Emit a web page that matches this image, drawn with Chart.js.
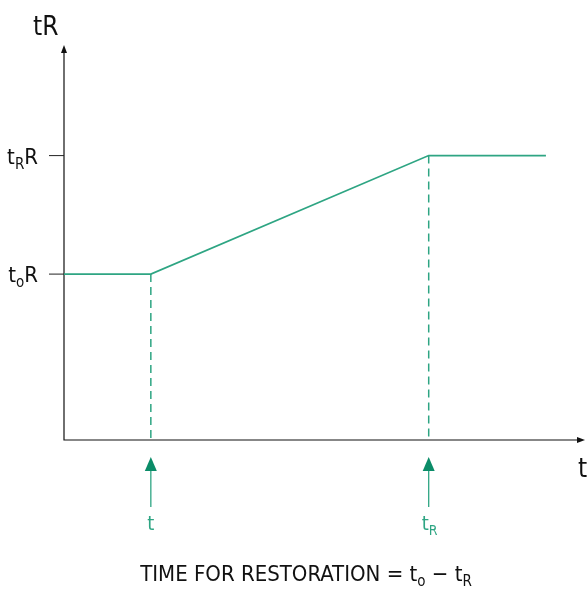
<!DOCTYPE html>
<html>
<head>
<meta charset="utf-8">
<script src="https://cdn.jsdelivr.net/npm/chart.js@4/dist/chart.umd.min.js"></script>
<style>
  html, body { margin: 0; padding: 0; background: #fff; }
  #wrap { width: 587px; height: 590px; }
</style>
</head>
<body>
<div id="wrap"><canvas id="restoreChart"></canvas></div>
<script>
// data
const timeValues = [0, 1, 4.2, 5.55];
const levelValues = [4.2, 4.2, 7.2, 7.2];
const levelTicks = [4.2, 7.2];
const levelTickLabels = [['t', 'o', 'R'], ['t', 'R', 'R']]; // base, subscript, tail
const markerTimes = [1, 4.2];
const markerLabels = [['t', ''], ['t', 'R']];

const GREEN = '#2ea583';
const ARROW_GREEN = '#0b8c68';
const FONT = "'Liberation Sans Narrow', 'DejaVu Sans Condensed', 'Roboto', sans-serif";

// draw "base" + subscript + tail, starting at x; returns end x
function subText(ctx, x, y, base, sub, tail, size, color) {
    ctx.fillStyle = color;
    ctx.textAlign = 'left';
    ctx.textBaseline = 'alphabetic';
    ctx.font = '300 ' + size + 'px ' + FONT;
    ctx.fillText(base, x, y);
    x += ctx.measureText(base).width;
    if (sub) {
        ctx.font = '300 ' + Math.round(size * 0.7) + 'px ' + FONT;
        ctx.fillText(sub, x, y + size * 0.24);
        x += ctx.measureText(sub).width;
    }
    if (tail) {
        ctx.font = '300 ' + size + 'px ' + FONT;
        ctx.fillText(tail, x, y);
        x += ctx.measureText(tail).width;
    }
    return x;
}

function measureSub(ctx, base, sub, tail, size) {
    ctx.font = '300 ' + size + 'px ' + FONT;
    let w = ctx.measureText(base).width + (tail ? ctx.measureText(tail).width : 0);
    if (sub) {
        ctx.font = '300 ' + Math.round(size * 0.7) + 'px ' + FONT;
        w += ctx.measureText(sub).width;
    }
    return w;
}

const decorations = {
    id: 'decorations',
    beforeDatasetsDraw(chart) {
        const ctx = chart.ctx;
        const area = chart.chartArea;
        const xs = chart.scales.x;
        const ys = chart.scales.y;
        ctx.save();

        // dashed drop lines
        ctx.strokeStyle = GREEN;
        ctx.lineWidth = 1.5;
        ctx.setLineDash([8, 5]);
        markerTimes.forEach((t, i) => {
            const px = xs.getPixelForValue(t);
            const idx = timeValues.indexOf(t);
            const py = ys.getPixelForValue(levelValues[idx]);
            ctx.beginPath();
            ctx.moveTo(px, py);
            ctx.lineTo(px, area.bottom);
            ctx.stroke();
        });
        ctx.setLineDash([]);

        // axes
        ctx.strokeStyle = '#111';
        ctx.fillStyle = '#111';
        ctx.lineWidth = 1.2;
        ctx.beginPath();
        ctx.moveTo(area.left, area.top + 3);
        ctx.lineTo(area.left, area.bottom);
        ctx.lineTo(area.right - 4, area.bottom);
        ctx.stroke();
        ctx.beginPath();
        ctx.moveTo(area.left, area.top);
        ctx.lineTo(area.left - 3, area.top + 8);
        ctx.lineTo(area.left + 3, area.top + 8);
        ctx.closePath();
        ctx.fill();
        ctx.beginPath();
        ctx.moveTo(area.right, area.bottom);
        ctx.lineTo(area.right - 8, area.bottom - 3);
        ctx.lineTo(area.right - 8, area.bottom + 3);
        ctx.closePath();
        ctx.fill();

        // y ticks + labels
        ctx.strokeStyle = '#222';
        ctx.lineWidth = 1;
        levelTicks.forEach((v, i) => {
            const py = ys.getPixelForValue(v);
            ctx.beginPath();
            ctx.moveTo(area.left - 15, py);
            ctx.lineTo(area.left, py);
            ctx.stroke();
            const [b, s, t] = levelTickLabels[i];
            const w = measureSub(ctx, b, s, t, 22);
            subText(ctx, 38 - w, py + 8, b, s, t, 22, '#111');
        });

        // axis titles
        subText(ctx, 33, 35, 'tR', '', '', 26, '#111');
        subText(ctx, 578, 477, 't', '', '', 26, '#111');

        // green marker arrows
        markerTimes.forEach((t, i) => {
            const px = xs.getPixelForValue(t);
            ctx.strokeStyle = GREEN;
            ctx.lineWidth = 1.3;
            ctx.beginPath();
            ctx.moveTo(px, 507);
            ctx.lineTo(px, 468);
            ctx.stroke();
            ctx.fillStyle = ARROW_GREEN;
            ctx.beginPath();
            ctx.moveTo(px, 457);
            ctx.lineTo(px - 6, 471);
            ctx.lineTo(px + 6, 471);
            ctx.closePath();
            ctx.fill();
            const [b, s] = markerLabels[i];
            const w = s ? 12 : measureSub(ctx, b, s, '', 20);
            subText(ctx, px - (s ? 7 : w / 2), 530, b, s, '', 20, GREEN);
        });

        // caption
        const size = 22;
        const parts = [['TIME FOR RESTORATION = t', 'o', ''], [' \u2212 t', 'R', '']];
        let total = 0;
        parts.forEach(p => total += measureSub(ctx, p[0], p[1], p[2], size));
        let cx = 306 - total / 2;
        parts.forEach(p => { cx = subText(ctx, cx, 581, p[0], p[1], p[2], size, '#111'); });

        ctx.restore();
    }
};

new Chart(document.getElementById('restoreChart'), {
    type: 'line',
    data: {
        datasets: [{
            data: timeValues.map((t, i) => ({ x: t, y: levelValues[i] })),
            borderColor: GREEN,
            borderWidth: 1.6,
            pointRadius: 0,
            tension: 0,
            fill: false,
            clip: false
        }]
    },
    options: {
        responsive: true,
        maintainAspectRatio: false,
        animation: false,
        layout: { padding: { left: 64, top: 45, right: 2, bottom: 150 } },
        plugins: { legend: { display: false }, tooltip: { enabled: false } },
        scales: {
            x: { type: 'linear', min: 0, max: 6, display: false },
            y: { type: 'linear', min: 0, max: 10, display: false }
        }
    },
    plugins: [decorations]
});
</script>
</body>
</html>
